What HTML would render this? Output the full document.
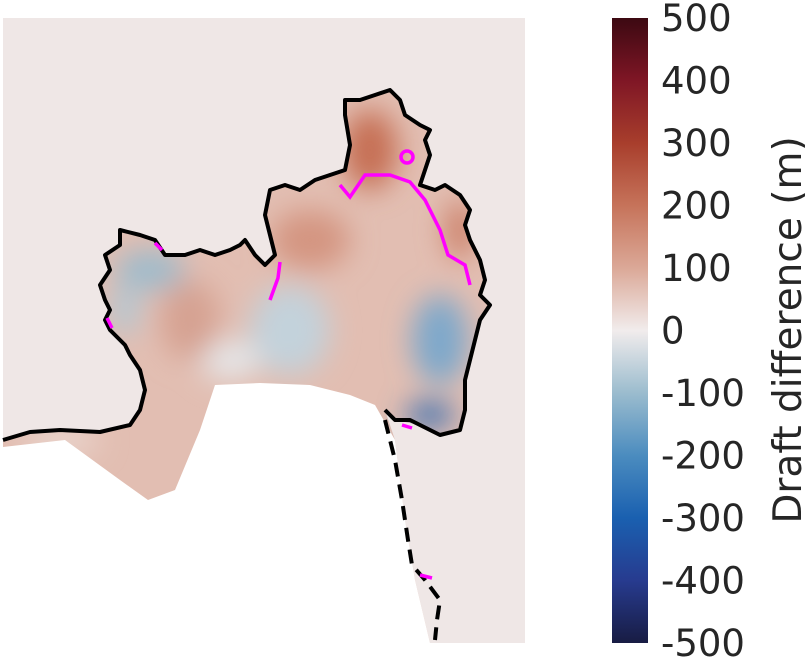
<!DOCTYPE html>
<html><head><meta charset="utf-8"><style>
html,body{margin:0;padding:0;background:#fff;}
svg{display:block;font-family:"DejaVu Sans","Liberation Sans",sans-serif;}
</style></head><body>
<svg width="805" height="661" viewBox="0 0 805 661">
<defs>
<linearGradient id="cb" x1="0" y1="1" x2="0" y2="0">
<stop offset="0" stop-color="#181c43"/>
<stop offset="0.1" stop-color="#273b8f"/>
<stop offset="0.2" stop-color="#1a60b0"/>
<stop offset="0.3" stop-color="#4b8cbf"/>
<stop offset="0.4" stop-color="#9bbcce"/>
<stop offset="0.5" stop-color="#f1ecec"/>
<stop offset="0.6" stop-color="#dba897"/>
<stop offset="0.7" stop-color="#c6735a"/>
<stop offset="0.8" stop-color="#a83e2c"/>
<stop offset="0.9" stop-color="#7f1625"/>
<stop offset="1" stop-color="#3c0912"/>
</linearGradient>
<filter id="bl" x="-50%" y="-50%" width="200%" height="200%"><feGaussianBlur stdDeviation="14"/></filter>
<clipPath id="shelf"><polygon points="3,440 30,432 60,430 100,432 130,425 140,410 145,390 140,370 130,355 125,345 110,330 105,320 110,310 105,300 100,285 110,270 105,255 120,245 120,230 140,235 155,240 165,255 185,255 200,250 215,255 230,250 240,245 245,240 255,255 265,265 275,255 270,235 265,215 270,190 285,185 300,190 315,180 330,175 345,170 350,145 345,115 345,100 360,100 375,95 390,90 400,100 405,115 420,125 430,130 425,140 430,155 425,170 420,185 435,190 445,185 460,195 470,210 465,225 470,240 480,260 485,280 480,295 490,305 480,320 475,340 470,360 465,380 465,410 460,430 440,435 420,425 395,420 385,410 395,440 405,520 415,580 430,643 3,643"/></clipPath>
</defs>
<rect x="3" y="18" width="522" height="625" fill="#efe7e6"/>
<g clip-path="url(#shelf)">
<rect x="3" y="80" width="522" height="563" fill="#e2beb2"/>
<g filter="url(#bl)">
<ellipse cx="370" cy="150" rx="28" ry="40" fill="#c66f55"/>
<ellipse cx="310" cy="240" rx="40" ry="30" fill="#d49581"/>
<ellipse cx="150" cy="270" rx="35" ry="20" fill="#9dbbcc"/>
<ellipse cx="125" cy="310" rx="15" ry="25" fill="#b2c8d4"/>
<ellipse cx="290" cy="330" rx="40" ry="45" fill="#c3d2db"/>
<ellipse cx="230" cy="360" rx="30" ry="20" fill="#e5e6e8"/>
<ellipse cx="440" cy="340" rx="28" ry="45" fill="#7ea8cb"/>
<ellipse cx="430" cy="415" rx="25" ry="13" fill="#3a70b0"/>
<ellipse cx="460" cy="230" rx="15" ry="30" fill="#cc7f67"/>
<ellipse cx="190" cy="320" rx="30" ry="40" fill="#d6a292"/>
<ellipse cx="60" cy="440" rx="40" ry="15" fill="#ead5ce"/>
</g>
</g>
<polygon points="3,447 65,440 120,480 148,500 175,490 200,430 215,385 260,383 310,385 350,395 375,405 395,440 405,520 415,580 430,643 3,643" fill="#ffffff"/>
<polyline points="3,440 30,432 60,430 100,432 130,425 140,410 145,390 140,370 130,355 125,345 110,330 105,320 110,310 105,300 100,285 110,270 105,255 120,245 120,230 140,235 155,240 165,255 185,255 200,250 215,255 230,250 240,245 245,240 255,255 265,265 275,255 270,235 265,215 270,190 285,185 300,190 315,180 330,175 345,170 350,145 345,115 345,100 360,100 375,95 390,90 400,100 405,115 420,125 430,130 425,140 430,155 425,170 420,185 435,190 445,185 460,195 470,210 465,225 470,240 480,260 485,280 480,295 490,305 480,320 475,340 470,360 465,380 465,410 460,430 440,435 420,425 410,420 395,420 385,410" fill="none" stroke="#000" stroke-width="4" stroke-linejoin="round"/>
<polyline points="385,420 395,460 402,500 408,540 412,565 425,580 440,600 437,620 435,640" fill="none" stroke="#000" stroke-width="4" stroke-dasharray="14,8"/>
<g fill="none" stroke="#ff00ff" stroke-width="3.5">
<polyline points="340,185 350,197 365,175 390,175 410,182 425,200 440,230 448,255 465,265 470,285"/>
<polyline points="270,300 278,278 280,262"/>
<circle cx="407" cy="157" r="6"/>
<polyline points="107,318 112,328"/>
<polyline points="155,243 162,250"/>
<polyline points="402,425 412,428"/>
<polyline points="420,575 432,578"/>
</g>
<rect x="612" y="18" width="36" height="625" fill="url(#cb)"/>
<g id="ticks" font-size="37" fill="#262626"></g>
<text transform="translate(801,330) rotate(-90)" text-anchor="middle" font-size="39" fill="#262626">Draft difference (m)</text>
<script>
const tickValues=[500,400,300,200,100,0,-100,-200,-300,-400,-500];
const tickLabels=["500","400","300","200","100","0","-100","-200","-300","-400","-500"];
const y=v=>18+(500-v)/1000*625;
const g=document.getElementById('ticks');
tickValues.forEach((v,i)=>{
 const t=document.createElementNS('http://www.w3.org/2000/svg','text');
 t.setAttribute('x',661);t.setAttribute('y',y(v)+13);
 t.textContent=tickLabels[i];
 
 
 g.appendChild(t);
});
</script>
</svg>
</body></html>
